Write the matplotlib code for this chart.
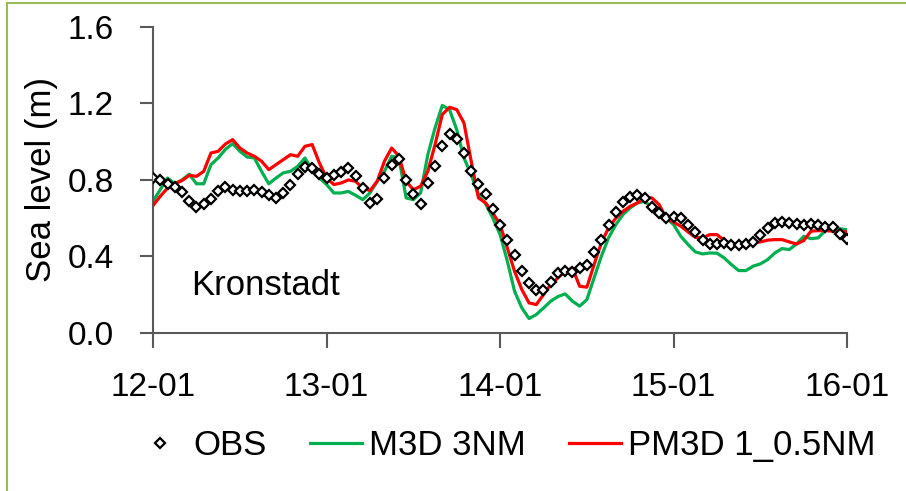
import numpy as np
import matplotlib
matplotlib.use('Agg')
import matplotlib.pyplot as plt
from matplotlib.lines import Line2D

plt.rcParams['font.family'] = ['Liberation Sans', 'DejaVu Sans']

# hourly sea level (m), 12-01 00h .. 16-01 00h
obs = [0.81, 0.80, 0.78, 0.765, 0.735, 0.69, 0.66, 0.675, 0.70, 0.74, 0.765, 0.75,
       0.74, 0.74, 0.75, 0.735, 0.72, 0.705, 0.73, 0.775, 0.83, 0.87, 0.86, 0.83,
       0.81, 0.825, 0.84, 0.86, 0.82, 0.76, 0.68, 0.70, 0.81, 0.878, 0.91, 0.80,
       0.725, 0.675, 0.785, 0.875, 0.976, 1.04, 1.015, 0.94, 0.845, 0.778, 0.725, 0.65,
       0.565, 0.486, 0.408, 0.326, 0.26, 0.225, 0.225, 0.268, 0.312, 0.326, 0.321, 0.338,
       0.356, 0.425, 0.486, 0.565, 0.631, 0.687, 0.713, 0.722, 0.704, 0.661, 0.629, 0.603,
       0.608, 0.60, 0.565, 0.53, 0.486, 0.465, 0.465, 0.469, 0.46, 0.46, 0.465, 0.477,
       0.512, 0.547, 0.573, 0.582, 0.577, 0.57, 0.565, 0.57, 0.565, 0.556, 0.552, 0.517,
       0.49]

m3d = [0.69, 0.75, 0.81, 0.78, 0.80, 0.83, 0.78, 0.78, 0.88, 0.915, 0.96, 0.99,
       0.95, 0.92, 0.915, 0.845, 0.78, 0.81, 0.837, 0.845, 0.871, 0.915, 0.854, 0.81,
       0.776, 0.732, 0.732, 0.74, 0.72, 0.697, 0.732, 0.793, 0.845, 0.924, 0.915, 0.706,
       0.697, 0.732, 0.932, 1.072, 1.19, 1.168, 1.063, 0.915, 0.828, 0.723, 0.675, 0.60,
       0.514, 0.375, 0.218, 0.131, 0.075, 0.096, 0.13, 0.166, 0.19, 0.204, 0.166, 0.14,
       0.174, 0.288, 0.40, 0.497, 0.566, 0.619, 0.654, 0.68, 0.688, 0.657, 0.619, 0.60,
       0.566, 0.505, 0.462, 0.424, 0.413, 0.418, 0.417, 0.392, 0.357, 0.326, 0.326, 0.349,
       0.361, 0.383, 0.418, 0.441, 0.436, 0.465, 0.505, 0.493, 0.497, 0.535, 0.549, 0.544,
       0.54]

pm3d = [0.667, 0.715, 0.758, 0.78, 0.797, 0.824, 0.819, 0.845, 0.941, 0.95, 0.988, 1.011,
        0.967, 0.941, 0.924, 0.898, 0.854, 0.88, 0.906, 0.932, 0.924, 0.976, 0.985, 0.889,
        0.81, 0.776, 0.784, 0.80, 0.793, 0.758, 0.744, 0.793, 0.898, 0.967, 0.924, 0.793,
        0.749, 0.767, 0.845, 0.985, 1.142, 1.18, 1.168, 1.098, 0.898, 0.706, 0.68, 0.627,
        0.566, 0.444, 0.322, 0.227, 0.157, 0.148, 0.20, 0.253, 0.288, 0.322, 0.34, 0.244,
        0.239, 0.357, 0.471, 0.549, 0.60, 0.636, 0.662, 0.68, 0.706, 0.706, 0.671, 0.598,
        0.579, 0.558, 0.528, 0.50, 0.497, 0.514, 0.514, 0.483, 0.465, 0.462, 0.448, 0.471,
        0.476, 0.485, 0.488, 0.488, 0.476, 0.465, 0.483, 0.532, 0.535, 0.535, 0.532, 0.532,
        0.528]

hours = np.arange(len(obs))
day_ticks = [0, 24, 48, 72, 96]
day_labels = ['12-01', '13-01', '14-01', '15-01', '16-01']

fig = plt.figure(figsize=(9.06, 4.91), dpi=100)
ax = fig.add_axes([0.169, 0.322, 0.766, 0.623])

ax.plot(hours, m3d, color='#00B050', lw=2.3, label='M3D 3NM', zorder=2)
ax.plot(hours, pm3d, color='#FF0000', lw=2.3, label='PM3D 1_0.5NM', zorder=3)
ax.plot(hours, obs, ls='none', marker='D', ms=5.5, mfc='white', mec='black',
        mew=1.6, label='OBS', zorder=4)

ax.set_xlim(0, 96)
ax.set_ylim(0, 1.6)
ax.set_yticks([0.0, 0.4, 0.8, 1.2, 1.6])
ax.set_yticklabels(['0.0', '0.4', '0.8', '1.2', '1.6'])
ax.set_xticks(day_ticks)
ax.set_xticklabels(day_labels)

for s in ['top', 'right']:
    ax.spines[s].set_visible(False)
for s in ['left', 'bottom']:
    ax.spines[s].set_color('#595959')
    ax.spines[s].set_linewidth(1.5)
ax.spines['bottom'].set_zorder(5)

ax.tick_params(axis='y', direction='out', length=9.5, width=1.5, color='#595959',
               labelsize=24, pad=19)
ax.tick_params(axis='x', direction='out', length=11, width=1.5, color='#595959',
               labelsize=24, pad=17)

ax.set_ylabel('Sea level (m)', fontsize=25)
ax.yaxis.set_label_coords(-0.137, 0.5)

ax.text(0.055, 0.124, 'Kronstadt', transform=ax.transAxes, fontsize=25,
        va='baseline', ha='left')

h, l = ax.get_legend_handles_labels()
order = [2, 0, 1]
fig.legend([h[i] for i in order], [l[i] for i in order], loc='center',
           bbox_to_anchor=(0.557, 0.092), ncol=3, frameon=False, fontsize=25,
           handlelength=1.5, handletextpad=0.2, columnspacing=1.24)

# light green frame on left and top
fig.add_artist(Line2D([7 / 906, 1], [1 - 3 / 491, 1 - 3 / 491], color='#9BBB59', lw=1.5,
                      transform=fig.transFigure))
fig.add_artist(Line2D([7 / 906, 7 / 906], [0, 1 - 3 / 491], color='#9BBB59', lw=1.5,
                      transform=fig.transFigure))

fig.savefig('out.png', dpi=100)
